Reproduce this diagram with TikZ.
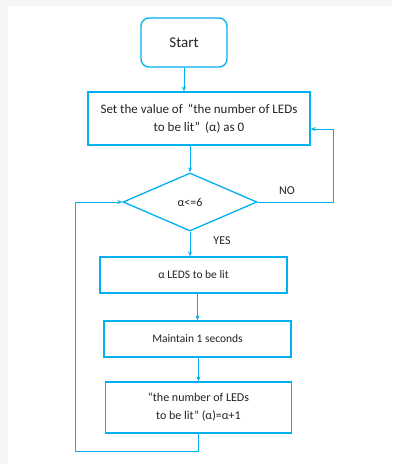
\documentclass[tikz,border=0pt]{standalone}
\usepackage{fontspec}
\setmainfont{Carlito}
\usetikzlibrary{shapes.geometric,arrows.meta,positioning,calc}
\definecolor{flow}{RGB}{0,176,240}
\definecolor{ink}{RGB}{35,35,35}

\begin{document}
\begin{tikzpicture}[x=1pt, y=-1pt, >={Stealth[length=5pt,width=4pt]},
    font=\fontsize{12}{18}\selectfont, text=ink,
    box/.style={draw=flow, line width=1.3pt, rectangle, align=center, inner sep=0pt},
    flowline/.style={->, draw=flow, line width=1pt}]
    % Page
    \fill[black!4] (0,0) rectangle (392,464);
    \fill[white] (8,6) rectangle (392,464);
    \useasboundingbox (0,0) rectangle (392,464);

    % Boxes
    \node[box, rounded corners=8pt, minimum width=86pt, minimum height=49pt, font=\fontsize{15}{18}\selectfont] (start) at (184, 42.5) {Start};
    \node[box, minimum width=222pt, minimum height=53pt, font=\fontsize{13}{18}\selectfont] (init) at (199, 118.5) {Set the value of \,“the number of LEDs\\ to be lit” \,(α) as 0};
    \node[box, diamond, minimum width=134pt, minimum height=58pt] (cond) at (190, 202) {α<=6};
    \node[box, minimum width=187pt, minimum height=36pt, font=\fontsize{11.5}{18}\selectfont] (lit) at (193.5, 275) {α LEDS to be lit};
    \node[box, minimum width=187pt, minimum height=36pt, font=\fontsize{11.5}{18}\selectfont] (hold) at (197.5, 339) {Maintain 1 seconds};
    \node[box, minimum width=186pt, minimum height=51pt] (incr) at (198.5, 407.5) {“the number of LEDs\\ to be lit” (α)=α+1};

    % Labels
    \node (no) at (287, 191) {NO};
    \node (yes) at (222, 241) {YES};

    % Straight arrows
    \draw[flowline] (start.south) -- (start.south |- init.north);
    \draw[flowline] (cond.north |- init.south) -- (cond.north);
    \draw[flowline] (cond.south) -- (cond.south |- lit.north);
    \draw[flowline] (lit.south -| hold.north) -- (hold.north);
    \draw[flowline] (hold.south -| incr.north) -- (incr.north);

    % NO loop
    \coordinate (noin) at ($(init.east)+(0,10.5)$);
    \draw[flowline] (cond.east) -- (333, 202) |- (noin);

    % Back loop
    \coordinate (back) at (75, 451);
    \draw[flowline] (incr.south) |- (back) |- (cond.west);
\end{tikzpicture}
\end{document}
